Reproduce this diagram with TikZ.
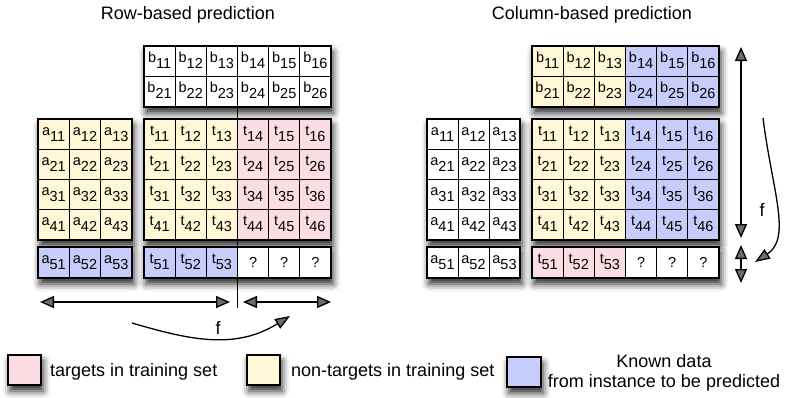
\documentclass[tikz,border=0pt]{standalone}
\usepackage{fontspec}
\setmainfont{Liberation Sans}
\usetikzlibrary{arrows.meta,shadows.blur}

\definecolor{cpink}{RGB}{251,221,227}
\definecolor{cyel}{RGB}{255,247,214}
\definecolor{cblue}{RGB}{198,205,250}

% entry: letter with a large, lowered index
\newcommand\ent[2]{#1\raisebox{-6pt}{#2}}

\tikzset{
  cellbase/.style={draw=black, line width=0.7pt, inner sep=0pt,
    font=\fontsize{14.5}{16}\selectfont},
  cell/.style={cellbase, text height=9pt, text depth=7pt},
  qcell/.style={cellbase, fill=white},
  shadowed/.style={blur shadow={shadow xshift=2pt, shadow yshift=-6pt,
    shadow blur radius=7pt, shadow opacity=85}},
  blockbg/.style={fill=white, shadowed},
  blockedge/.style={draw=black, line width=1.1pt},
  bigtext/.style={font=\fontsize{18}{22}\selectfont, inner sep=0pt},
  legbox/.style={draw=black, line width=1.1pt, minimum width=33pt,
    minimum height=30pt, inner sep=0pt, shadowed},
  dblarrow/.style={line width=1.3pt, {Triangle[length=14pt,width=12pt]}-{Triangle[length=14pt,width=12pt]}},
  farrow/.style={line width=1.3pt, -{Triangle[length=15pt,width=11pt]}},
}

\begin{document}
\begin{tikzpicture}[x=1pt,y=-1pt]
\useasboundingbox (0,0) rectangle (786,397);

% ---------------- titles ----------------
\node[bigtext] (title-row) at (188,15) {Row-based prediction};
\node[bigtext] (title-col) at (592,15) {Column-based prediction};

% ---------------- block shadows ----------------
\foreach \x/\y/\X/\Y in {144/46/331/107, 38/119/132/240, 38/247/132/278,
    144/119/331/240, 144/247/331/278,
    532/46/719/107, 427/119/520/240, 427/247/520/278,
    532/119/719/240, 532/247/719/278}
  \path[blockbg] (\x,\y) rectangle (\X,\Y);

% ================= row-based panel =================
% B block
\foreach \r in {1,2} \foreach \c in {1,...,6}
  \node[cell, fill=white, minimum width=31.17pt, minimum height=30.5pt]
    (LB-\r\c) at ({144+(\c-0.5)*31.1667},{46+(\r-0.5)*30.5}) {\ent{b}{\r\c}};
% A block, rows 1-4
\foreach \r in {1,...,4} \foreach \c in {1,2,3}
  \node[cell, fill=cyel, minimum width=31.33pt, minimum height=30.25pt]
    (LA-\r\c) at ({38+(\c-0.5)*31.333},{119+(\r-0.5)*30.25}) {\ent{a}{\r\c}};
% A block, row 5
\foreach \c in {1,2,3}
  \node[cell, fill=cblue, minimum width=31.33pt, minimum height=31pt]
    (LA-5\c) at ({38+(\c-0.5)*31.333},262.5) {\ent{a}{5\c}};
% T block, rows 1-4
\foreach \r in {1,...,4} \foreach \c in {1,...,6} {
  \ifnum\c<4 \def\fc{cyel}\else\def\fc{cpink}\fi
  \node[cell, fill=\fc, minimum width=31.17pt, minimum height=30.25pt]
    (LT-\r\c) at ({144+(\c-0.5)*31.1667},{119+(\r-0.5)*30.25}) {\ent{t}{\r\c}};
}
% T block, row 5
\foreach \c in {1,2,3}
  \node[cell, fill=cblue, minimum width=31.17pt, minimum height=31pt]
    (LT-5\c) at ({144+(\c-0.5)*31.1667},262.5) {\ent{t}{5\c}};
\foreach \c in {4,5,6}
  \node[qcell, minimum width=31.17pt, minimum height=31pt]
    (LT-5\c) at ({144+(\c-0.5)*31.1667},262.5) {?};

% ================= column-based panel =================
% B block
\foreach \r in {1,2} \foreach \c in {1,...,6} {
  \ifnum\c<4 \def\fc{cyel}\else\def\fc{cblue}\fi
  \node[cell, fill=\fc, minimum width=31.17pt, minimum height=30.5pt]
    (RB-\r\c) at ({532+(\c-0.5)*31.1667},{46+(\r-0.5)*30.5}) {\ent{b}{\r\c}};
}
% A block, rows 1-4
\foreach \r in {1,...,4} \foreach \c in {1,2,3}
  \node[cell, fill=white, minimum width=31pt, minimum height=30.25pt]
    (RA-\r\c) at ({427+(\c-0.5)*31},{119+(\r-0.5)*30.25}) {\ent{a}{\r\c}};
% A block, row 5
\foreach \c in {1,2,3}
  \node[cell, fill=white, minimum width=31pt, minimum height=31pt]
    (RA-5\c) at ({427+(\c-0.5)*31},262.5) {\ent{a}{5\c}};
% T block, rows 1-4
\foreach \r in {1,...,4} \foreach \c in {1,...,6} {
  \ifnum\c<4 \def\fc{cyel}\else\def\fc{cblue}\fi
  \node[cell, fill=\fc, minimum width=31.17pt, minimum height=30.25pt]
    (RT-\r\c) at ({532+(\c-0.5)*31.1667},{119+(\r-0.5)*30.25}) {\ent{t}{\r\c}};
}
% T block, row 5
\foreach \c in {1,2,3}
  \node[cell, fill=cpink, minimum width=31.17pt, minimum height=31pt]
    (RT-5\c) at ({532+(\c-0.5)*31.1667},262.5) {\ent{t}{5\c}};
\foreach \c in {4,5,6}
  \node[qcell, minimum width=31.17pt, minimum height=31pt]
    (RT-5\c) at ({532+(\c-0.5)*31.1667},262.5) {?};

% ---------------- block outlines ----------------
\foreach \x/\y/\X/\Y in {144/46/331/107, 38/119/132/240, 38/247/132/278,
    144/119/331/240, 144/247/331/278,
    532/46/719/107, 427/119/520/240, 427/247/520/278,
    532/119/719/240, 532/247/719/278}
  \draw[blockedge] (\x,\y) rectangle (\X,\Y);

% ---------------- row-based arrows ----------------
\coordinate (split-top) at (237,107);
\coordinate (split-bot) at (237,308);
\draw[line width=1pt] (split-top) -- (split-bot);

\coordinate (in-l) at (40,302);
\coordinate (in-r) at (230,302);
\coordinate (out-l) at (243,302);
\coordinate (out-r) at (331,302);
\draw[dblarrow] (in-l) -- (in-r);
\draw[dblarrow] (out-l) -- (out-r);

\coordinate (fr-start) at (132,323);
\coordinate (fr-end) at (290,316);
\draw[farrow] (fr-start) .. controls (190,340) and (235,350) .. (fr-end);
\node[bigtext] (fr-label) at (218,328) {f};

% ---------------- column-based arrows ----------------
\coordinate (cin-t) at (741,47);
\coordinate (cin-b) at (741,238);
\coordinate (cout-t) at (741,245);
\coordinate (cout-b) at (741,283);
\draw[dblarrow] (cin-t) -- (cin-b);
\draw[dblarrow] (cout-t) -- (cout-b);

\coordinate (fc-start) at (763,118);
\coordinate (fc-end) at (755,262);
\draw[farrow] (fc-start) .. controls (772,190) and (792,238) .. (fc-end);
\node[bigtext] (fc-label) at (762,210) {f};

% ---------------- legend ----------------
\node[legbox, fill=cpink] (leg-pink) at (24.5,370) {};
\node[bigtext, anchor=west] (leg-pink-txt) at (50,372) {targets in training set};
\node[legbox, fill=cyel] (leg-yel) at (263.5,370) {};
\node[bigtext, anchor=west] (leg-yel-txt) at (291,372) {non-targets in training set};
\node[legbox, fill=cblue, minimum width=34pt] (leg-blue) at (524,372) {};
\node[bigtext, align=center, font=\fontsize{18}{20}\selectfont] (leg-blue-txt) at (664,373)
  {Known data\\from instance to be predicted};
\end{tikzpicture}
\end{document}
